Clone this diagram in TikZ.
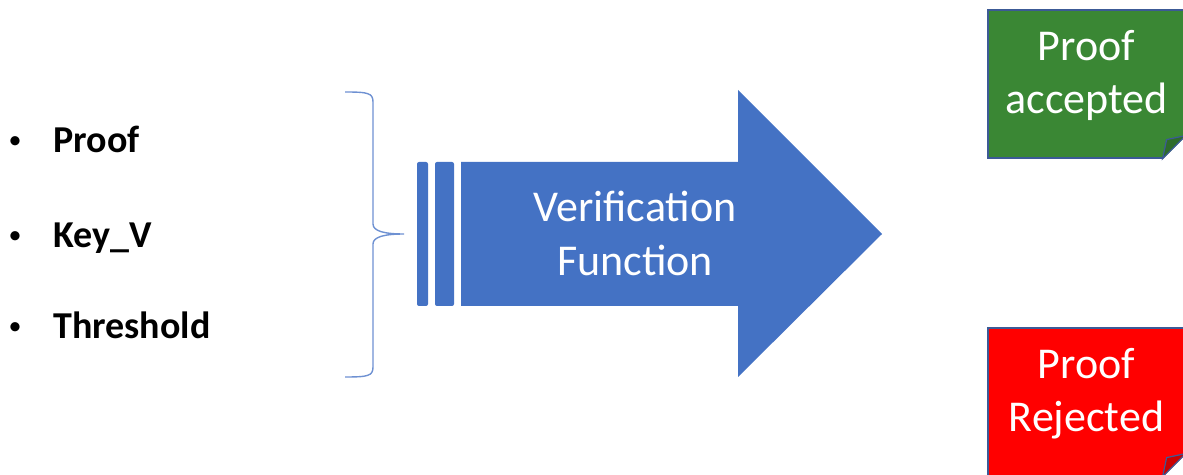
\documentclass[tikz,border=0pt]{standalone}
\usepackage{fontspec}
\setmainfont{Carlito}
\usetikzlibrary{positioning,calc}
\definecolor{vfblue}{RGB}{68,114,196}
\definecolor{vfbrace}{RGB}{110,145,210}
\definecolor{vfgreen}{RGB}{58,135,52}
\definecolor{vfred}{RGB}{255,0,0}
\definecolor{vfedge}{RGB}{60,90,150}

\begin{document}
\begin{tikzpicture}[x=0.5pt, y=-0.5pt,
  item/.style={anchor=base west, inner sep=0pt, font=\fontsize{19}{23}\selectfont\bfseries},
  dot/.style={anchor=base, inner sep=0pt, font=\fontsize{13}{15}\selectfont},
  note/.style={draw=vfedge, line width=0.6pt, minimum width=98.5pt, minimum height=74pt,
               inner sep=0pt, align=center, text=white, text depth=12.5pt,
               font=\fontsize{22}{26.5}\selectfont},
  bar/.style={fill=vfblue, rounded corners=1pt}]
\clip (0,0) rectangle (1183,475);

% inputs
\node[item] (proof) at (53,153) {Proof};
\node[item] (key)   at (53,248) {Key\_V};
\node[item] (thr)   at (53,339) {Threshold};
\foreach \n in {proof,key,thr}
  \node[dot] at ($(\n.base west)+(-38,-4)$) {•};

% brace
\coordinate (btop) at (345,92);
\coordinate (bbot) at (345,377);
\coordinate (btip) at (404,234);
\draw[vfbrace, line width=0.7pt]
  (btop) .. controls (368,92) and (373,93) .. (373,102)
  -- (373,224) .. controls (373,231) and (384,234) .. (btip)
  .. controls (384,234) and (373,237) .. (373,244)
  -- (373,367) .. controls (373,376) and (368,377) .. (bbot);

% arrow
\fill[bar] (417,162) rectangle (428,306);
\fill[bar] (435,162) rectangle (454,306);
\fill[vfblue] (461,162) -- (738,162) -- (738,90) -- (882,234)
  -- (738,377) -- (738,306) -- (461,306) -- cycle;
\node[text=white, align=center, font=\fontsize{22}{27}\selectfont] (vf) at (635,233)
  {Verification\\Function};

% results
\node[note, fill=vfgreen] (ok) at (1086.5,84) {Proof\\accepted};
\node[note, fill=vfred]   (no) at (1086.5,402) {Proof\\Rejected};
\foreach \b/\c in {ok/vfgreen,no/vfred} {
  \fill[white] ($(\b.south east)+(-23,1)$) -- ($(\b.south east)+(1,1)$) -- ($(\b.south east)+(1,-23)$) -- cycle;
  \filldraw[fill=\c!80!black, draw=vfedge, line width=0.6pt]
    ($(\b.south east)+(-23,0)$) -- ($(\b.south east)+(-19,-19)$) -- ($(\b.south east)+(0,-23)$) -- cycle;
}
\end{tikzpicture}
\end{document}
